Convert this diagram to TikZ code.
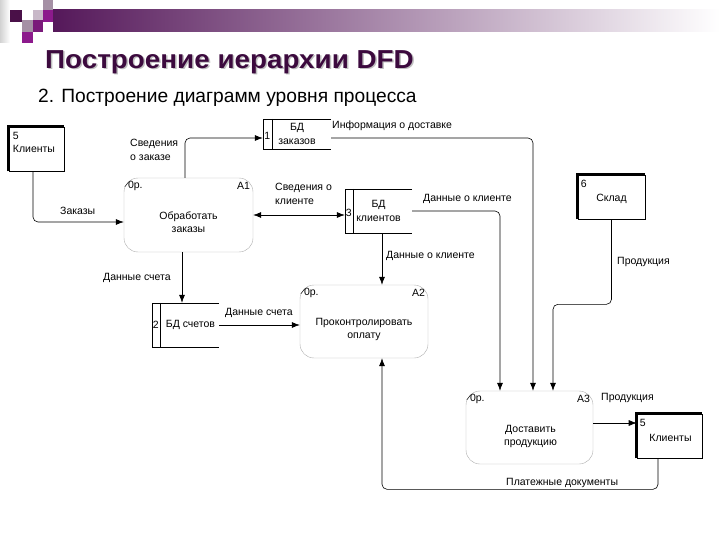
\documentclass[tikz,border=0pt]{standalone}
\usepackage{fontspec}
\setmainfont{Liberation Sans}
\usetikzlibrary{shapes,arrows,arrows.meta}

\definecolor{plum}{HTML}{3C0A3E}
\definecolor{barplum}{HTML}{55185A}
\definecolor{sqdark}{HTML}{4A1048}
\definecolor{sqmag}{HTML}{8C1A8C}
\definecolor{sqmid}{HTML}{7A1A7A}
\definecolor{sqgray}{HTML}{A590A5}
\definecolor{sqlight}{HTML}{C8B8C8}

\begin{document}
\begin{tikzpicture}[x=1pt,y=-1pt,
	proc/.style={draw=gray!65, rounded corners=14pt, minimum width=129pt, minimum height=74pt, inner sep=0pt},
	ent/.style={draw, line width=0.6pt, minimum height=44pt, inner sep=0pt},
	store/.style={minimum height=44pt, inner sep=0pt, align=center, font=\fontsize{10.5}{13.5}\selectfont},
	flow/.style={-{Latex[length=8pt,width=6pt]}, line width=0.6pt, rounded corners=5pt},
	lbl/.style={inner sep=0pt, align=left, font=\fontsize{10.5}{13.5}\selectfont}]
	\useasboundingbox (0,0) rectangle (720,540);
	% header
	\shade[left color=gray!35, right color=white] (0,0) rectangle (10,43);
	\shade[left color=barplum, right color=white] (53,10) rectangle (720,32);
	\fill[sqgray] (43,0) rectangle (53,10);
	\fill[sqdark] (10,10) rectangle (22,22);
	\fill[sqlight] (33,10) rectangle (43,20);
	\fill[sqmag] (43,10) rectangle (53,22);
	\fill[sqgray] (22,20) rectangle (33,32);
	\fill[sqmid] (33,20) rectangle (43,32);
	\fill[sqmag] (22,32) rectangle (33,43);
	\node[anchor=base west, inner sep=0pt, text=gray!50, font=\fontsize{26}{30}\selectfont\bfseries, xscale=1.07] (ttlsh) at (46.5,70) {Построение иерархии DFD};
	\node[anchor=base west, inner sep=0pt, text=plum, font=\fontsize{26}{30}\selectfont\bfseries, xscale=1.07] (ttl) at (45,68.5) {Построение иерархии DFD};
	\node[anchor=base west, inner sep=0pt, font=\fontsize{19.2}{23}\selectfont] (sub) at (38,103) {2. Построение диаграмм уровня процесса};

	% processes
	\node[proc] (a1) at (188.5,215) {};
	\node[proc, minimum width=128pt, minimum height=73pt] (a2) at (364,321.5) {};
	\node[proc, minimum width=127pt, minimum height=73pt] (a3) at (529.5,427.5) {};
	\node[lbl, align=center] (a1t) at ([shift={(0,7)}]a1.center) {Обработать\\заказы};
	\node[lbl, align=center] (a2t) at ([shift={(0,8)}]a2.center) {Проконтролировать\\оплату};
	\node[lbl, align=center] (a3t) at ([shift={(1,9)}]a3.center) {Доставить\\продукцию};
	\node[lbl, anchor=west] (a1o) at ([shift={(4,8)}]a1.north west) {0р.};
	\node[lbl, anchor=east] (a1n) at ([shift={(-3,8)}]a1.north east) {A1};
	\node[lbl, anchor=west] (a2o) at ([shift={(4,8)}]a2.north west) {0р.};
	\node[lbl, anchor=east] (a2n) at ([shift={(-3,8)}]a2.north east) {A2};
	\node[lbl, anchor=west] (a3o) at ([shift={(4,8)}]a3.north west) {0р.};
	\node[lbl, anchor=east] (a3n) at ([shift={(-3,8)}]a3.north east) {A3};
	\draw ([shift={(1,9)}]a1.north west) -- ++(4,-5);
	\draw ([shift={(1,9)}]a2.north west) -- ++(4,-5);
	\draw ([shift={(1,9)}]a3.north west) -- ++(4,-5);

	% external entities
	\node[ent, minimum width=55pt] (k1) at (36.5,149) {};
	\node[ent, minimum width=67pt] (sk) at (611.5,197) {};
	\node[ent, minimum width=65pt] (k2) at (669.5,436) {};
	\draw[line width=3pt] (k1.south west) -- (k1.north west) -- (k1.north east);
	\draw[line width=3pt] (sk.south west) -- (sk.north west) -- (sk.north east);
	\draw[line width=3pt] (k2.south west) -- (k2.north west) -- (k2.north east);
	\node[lbl, anchor=north west] (k1t) at ([shift={(4,5)}]k1.north west) {5\\Клиенты};
	\node[lbl, anchor=north west] (skn) at ([shift={(3,5)}]sk.north west) {6};
	\node[lbl] (skt) at ([shift={(0,2)}]sk.center) {Склад};
	\node[lbl, anchor=north west] (k2n) at ([shift={(3,5)}]k2.north west) {5};
	\node[lbl] (k2t) at ([shift={(1,2)}]k2.center) {Клиенты};

	% data stores
	\node[store, minimum width=68pt, minimum height=30pt] (s1) at (297,134) {БД\\заказов};
	\node[store, minimum width=67pt] (s3) at (378.5,211) {БД\\клиентов};
	\node[store, minimum width=67pt] (s2) at (185.5,325) {};
	\node[lbl] (s2t) at ([shift={(5,0)}]s2.center) {БД счетов};
	\draw (s1.north east) -- (s1.north west) -- (s1.south west) -- (s1.south east);
	\draw ([xshift=9pt]s1.north west) -- ([xshift=9pt]s1.south west);
	\draw (s3.north east) -- (s3.north west) -- (s3.south west) -- (s3.south east);
	\draw ([xshift=8pt]s3.north west) -- ([xshift=8pt]s3.south west);
	\draw (s2.north east) -- (s2.north west) -- (s2.south west) -- (s2.south east);
	\draw ([xshift=8pt]s2.north west) -- ([xshift=8pt]s2.south west);
	\node[lbl] (s1n) at ([shift={(4.5,2)}]s1.west) {1};
	\node[lbl] (s3n) at ([shift={(4,2)}]s3.west) {3};
	\node[lbl] (s2n) at ([shift={(4,0)}]s2.west) {2};

	% flows
	\draw[flow] ([xshift=-3.5pt]k1.south) |- ([yshift=-7pt]a1.west);
	\draw[flow] ([xshift=-3.5pt]a1.north) |- ([yshift=-4pt]s1.west);
	\draw[flow] ([yshift=-4pt]s1.east) -| ([xshift=3.5pt]a3.north);
	\draw[flow, {Latex[length=8pt,width=6pt]}-{Latex[length=8pt,width=6pt]}] (a1.east) -- (a1.east -| s3.west);
	\draw[flow] (s3.east) -| ([xshift=-29.5pt]a3.north);
	\draw[flow] ([xshift=3.5pt]s3.south) -- ([xshift=3.5pt]s3.south |- a2.north);
	\draw[flow] (sk.south) -- ++(0,85) -| ([xshift=23.5pt]a3.north);
	\draw[flow] ([xshift=-6.5pt]a1.south) -- ([xshift=-6.5pt]a1.south |- s2.north);
	\draw[flow] (s2.east) -- (s2.east -| a2.west);
	\draw[flow] ([yshift=4.5pt]a3.east) -- ([yshift=4.5pt]a3.east -| k2.west);
	\draw[flow] ([xshift=-11.5pt]k2.south) -- ++(0,31) -| ([xshift=18pt]a2.south);

	% flow labels
	\node[lbl, anchor=west] (l1) at (60,211) {Заказы};
	\node[lbl, anchor=west] (l2) at (130,150) {Сведения\\о заказе};
	\node[lbl, anchor=west] (l3) at (332,126) {Информация о доставке};
	\node[lbl, anchor=west] (l4) at (275,194) {Сведения о\\клиенте};
	\node[lbl, anchor=west] (l5) at (423,199) {Данные о клиенте};
	\node[lbl, anchor=west] (l6) at (386,256) {Данные о клиенте};
	\node[lbl, anchor=west] (l7) at (617,262) {Продукция};
	\node[lbl, anchor=west] (l8) at (103,278) {Данные счета};
	\node[lbl, anchor=west] (l9) at (225,313) {Данные счета};
	\node[lbl, anchor=west] (l10) at (601,398) {Продукция};
	\node[lbl, anchor=west] (l11) at (506,483) {Платежные документы};
\end{tikzpicture}
\end{document}
